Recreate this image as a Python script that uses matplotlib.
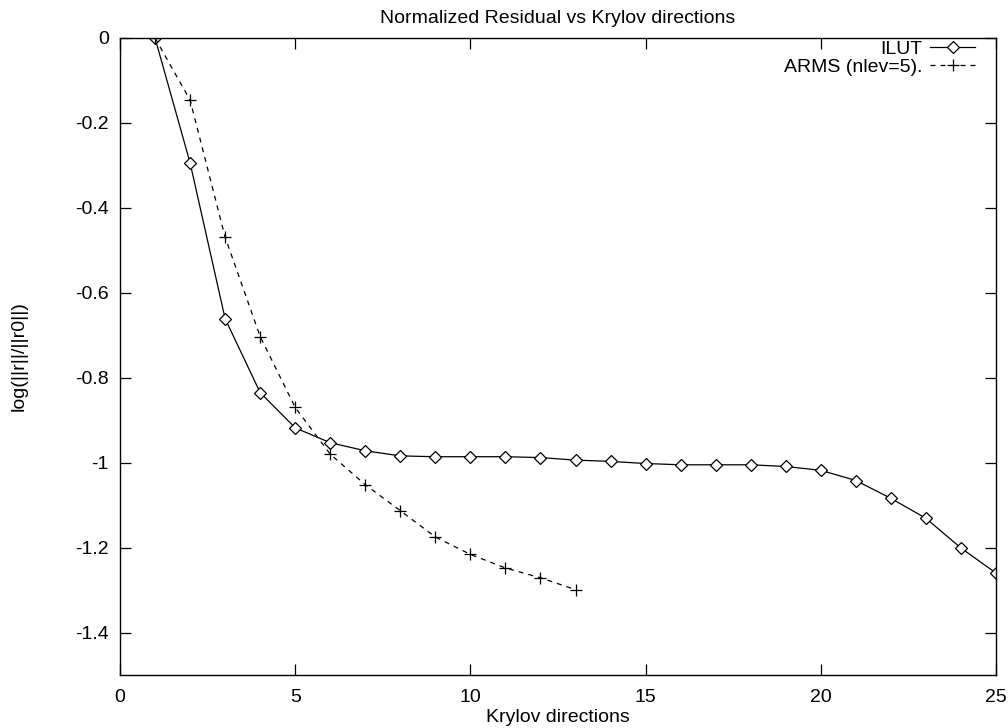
import numpy as np
import matplotlib.pyplot as plt

plt.rcParams['font.family'] = ['Liberation Sans', 'DejaVu Sans']

# Krylov directions
ilut_x = list(range(1, 26))
ilut_y = [0.0, -0.294, -0.661, -0.835, -0.918, -0.953, -0.972, -0.984, -0.986, -0.986,
          -0.986, -0.988, -0.994, -0.997, -1.002, -1.005, -1.005, -1.005, -1.009, -1.018,
          -1.042, -1.084, -1.131, -1.201, -1.260]

arms_x = list(range(1, 14))
arms_y = [0.0, -0.146, -0.469, -0.703, -0.870, -0.980, -1.052, -1.113, -1.175, -1.216,
          -1.248, -1.271, -1.299]

fs = 14

fig = plt.figure(figsize=(10.08, 7.28), dpi=100)
ax = fig.add_axes([120/1008, 1 - 675/728, 876/1008, 637/728])

ax.plot(ilut_x, ilut_y, color='black', lw=0.9, marker='D', markersize=6,
        markerfacecolor='white', markeredgecolor='black', markeredgewidth=0.9, label='ILUT')
ax.plot(arms_x, arms_y, color='black', lw=0.9, ls=(0, (4, 4)), marker='+', markersize=9,
        markeredgewidth=0.9, label='ARMS (nlev=5).')

ax.set_xlim(0, 25)
ax.set_ylim(-1.5, 0)
ax.set_xticks([0, 5, 10, 15, 20, 25])
ax.set_yticks([0, -0.2, -0.4, -0.6, -0.8, -1, -1.2, -1.4])
ax.set_yticklabels(['0', '-0.2', '-0.4', '-0.6', '-0.8', '-1', '-1.2', '-1.4'])
ax.tick_params(direction='in', length=8, width=0.9, top=True, right=True,
               labelsize=fs)
ax.tick_params(axis='y', pad=8)
ax.tick_params(axis='x', pad=10)
for s in ax.spines.values():
    s.set_linewidth(1.0)

ax.set_xlabel('Krylov directions', fontsize=fs, labelpad=2)
ax.set_ylabel('log(||r||/||r0||)', fontsize=fs, labelpad=34)
ax.set_title('Normalized Residual vs Krylov directions', fontsize=fs, pad=11)

ax.legend(loc='upper right', frameon=False, markerfirst=False, fontsize=fs,
          handlelength=2.3, handletextpad=0.4, labelspacing=0.05,
          borderpad=0, borderaxespad=0,
          bbox_to_anchor=(0.976, 0.997))

fig.savefig('out.png', dpi=100)
